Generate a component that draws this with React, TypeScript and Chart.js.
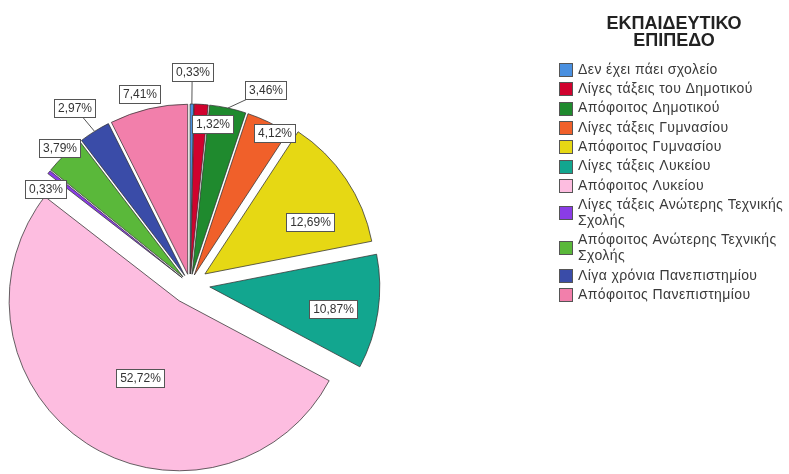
import React, { useEffect, useRef } from 'react';
import { Chart, PieController, ArcElement, registerables } from 'chart.js';

Chart.register(...registerables);

// ---------- data ----------
const categories: string[] = [
  'Δεν έχει πάει σχολείο',
  'Λίγες τάξεις του Δημοτικού',
  'Απόφοιτος Δημοτικού',
  'Λίγες τάξεις Γυμνασίου',
  'Απόφοιτος Γυμνασίου',
  'Λίγες τάξεις Λυκείου',
  'Απόφοιτος Λυκείου',
  'Λίγες τάξεις Ανώτερης Τεχνικής Σχολής',
  'Απόφοιτος Ανώτερης Τεχνικής Σχολής',
  'Λίγα χρόνια Πανεπιστημίου',
  'Απόφοιτος Πανεπιστημίου',
];
const percentages: number[] = [0.33, 1.32, 3.46, 4.12, 12.69, 10.87, 52.72, 0.33, 3.79, 2.97, 7.41];
const legendTitle: string[] = ['ΕΚΠΑΙΔΕΥΤΙΚΟ', 'ΕΠΙΠΕΔΟ'];

// ---------- styles ----------
const sliceColors: string[] = [
  '#4a90e0', '#d0022e', '#1f8a2e', '#f0602a', '#e6d814', '#12a68f',
  '#fdbde0', '#8a3ce6', '#5ab83a', '#3a4ca8', '#f27fab',
];
const explodeDistances: number[] = [10, 10, 10, 10, 18, 20, 20, 10, 10, 10, 10];
// [radius factor, angle nudge in degrees] for each value label
const labelPlacement: [number, number][] = [
  [1.19, 0], [0.89, 4.9], [1.165, 9.7], [0.96, 3.5], [0.69, 7.6], [0.735, 1.5],
  [0.51, -6], [0.96, -5.4], [1.05, 0.6], [1.18, -1.2], [1.095, -1.7],
];
const FONT = '"Liberation Sans", Arial, sans-serif';

class ExplodedArc extends (ArcElement as any) {
  static id = 'explodedArc';
  static defaults = { explode: 0 };
  draw(ctx: CanvasRenderingContext2D) {
    const self: any = this;
    const d = (self.options && self.options.explode) || 0;
    const mid = (self.startAngle + self.endAngle) / 2;
    ctx.save();
    ctx.translate(Math.cos(mid) * d, Math.sin(mid) * d);
    super.draw(ctx);
    ctx.restore();
  }
}

class ExplodedPie extends (PieController as any) {
  static id = 'explodedPie';
  static defaults = { dataElementType: 'explodedArc' };
}

Chart.register(ExplodedArc as any, ExplodedPie as any);

const formatPct = (v: number) => v.toFixed(2).replace('.', ',') + '%';

const labelPlugin = {
  id: 'sliceLabels',
  afterDatasetsDraw(chart: any) {
    const ctx: CanvasRenderingContext2D = chart.ctx;
    const meta = chart.getDatasetMeta(0);
    ctx.save();
    ctx.font = `12px ${FONT}`;
    ctx.textAlign = 'center';
    ctx.textBaseline = 'middle';
    meta.data.forEach((arc: any, i: number) => {
      const p = arc.getProps(['x', 'y', 'startAngle', 'endAngle', 'outerRadius'], true);
      const d = explodeDistances[i];
      const mid = (p.startAngle + p.endAngle) / 2;
      const ax = p.x + Math.cos(mid) * d;
      const ay = p.y + Math.sin(mid) * d;
      const [rf, nudge] = labelPlacement[i];
      const la = mid + (nudge * Math.PI) / 180;
      const lx = ax + Math.cos(la) * p.outerRadius * rf;
      const ly = ay + Math.sin(la) * p.outerRadius * rf;
      const text = formatPct(chart.data.datasets[0].data[i]);
      const w = Math.round(ctx.measureText(text).width + 7);
      const h = 18;
      if (rf > 1.1) {
        ctx.beginPath();
        ctx.strokeStyle = '#555';
        ctx.lineWidth = 1;
        ctx.moveTo(ax + Math.cos(mid) * p.outerRadius, ay + Math.sin(mid) * p.outerRadius);
        ctx.lineTo(lx, ly);
        ctx.stroke();
      }
      const bx = Math.round(lx - w / 2) + 0.5;
      const by = Math.round(ly - h / 2) + 0.5;
      ctx.fillStyle = '#ffffff';
      ctx.fillRect(bx, by, w, h);
      ctx.strokeStyle = '#555';
      ctx.lineWidth = 1;
      ctx.strokeRect(bx, by, w, h);
      ctx.fillStyle = '#333';
      ctx.fillText(text, bx + w / 2, by + h / 2 + 0.5);
    });
    ctx.restore();
  },
};

const legendPlugin = {
  id: 'sideLegend',
  afterDraw(chart: any) {
    const ctx: CanvasRenderingContext2D = chart.ctx;
    ctx.save();
    ctx.textBaseline = 'middle';
    // title
    ctx.fillStyle = '#222';
    ctx.font = `bold 18px ${FONT}`;
    ctx.textAlign = 'center';
    legendTitle.forEach((t, i) => ctx.fillText(t, 674, 24 + i * 17));
    // items
    ctx.font = `14px ${FONT}`;
    (ctx as any).letterSpacing = '0.4px';
    ctx.textAlign = 'left';
    const textX = 578;
    const maxW = chart.width - textX;
    const lineH = 16;
    const gap = 3.3;
    let top = 70;
    const labels: string[] = chart.data.labels;
    const colors: string[] = chart.data.datasets[0].backgroundColor;
    labels.forEach((label, i) => {
      const words = label.split(' ');
      const lines: string[] = [];
      let cur = '';
      words.forEach((w) => {
        const test = cur ? cur + ' ' + w : w;
        if (cur && ctx.measureText(test).width > maxW) {
          lines.push(cur);
          cur = w;
        } else cur = test;
      });
      lines.push(cur);
      const centerY = top + ((lines.length - 1) * lineH) / 2;
      ctx.fillStyle = colors[i];
      ctx.fillRect(559, Math.round(centerY - 7), 14, 14);
      ctx.strokeStyle = '#555';
      ctx.lineWidth = 1;
      ctx.strokeRect(559.5, Math.round(centerY - 7) + 0.5, 13, 13);
      ctx.fillStyle = '#3a3a3a';
      lines.forEach((ln, k) => ctx.fillText(ln, textX, top + k * lineH));
      top += lines.length * lineH + gap;
    });
    ctx.restore();
  },
};

export default function App() {
  const ref = useRef<HTMLCanvasElement>(null);
  useEffect(() => {
    if (!ref.current) return;
    const chart = new Chart(ref.current, {
      type: 'explodedPie' as any,
      data: {
        labels: categories,
        datasets: [
          {
            data: percentages,
            backgroundColor: sliceColors,
            borderColor: 'rgba(50,50,50,0.75)',
            borderWidth: 1,
            explode: explodeDistances,
          } as any,
        ],
      },
      options: {
        responsive: false,
        animation: false,
        radius: 170,
        layout: { padding: { left: 5, right: 414, top: 99, bottom: 5 } },
        plugins: {
          legend: { display: false },
          tooltip: { enabled: false },
        },
      } as any,
      plugins: [labelPlugin, legendPlugin],
    });
    return () => chart.destroy();
  }, []);
  return (
    <div style={{ position: 'fixed', left: 0, top: 0, width: 789, height: 474, background: '#fff' }}>
      <canvas ref={ref} width={789} height={474} />
    </div>
  );
}
